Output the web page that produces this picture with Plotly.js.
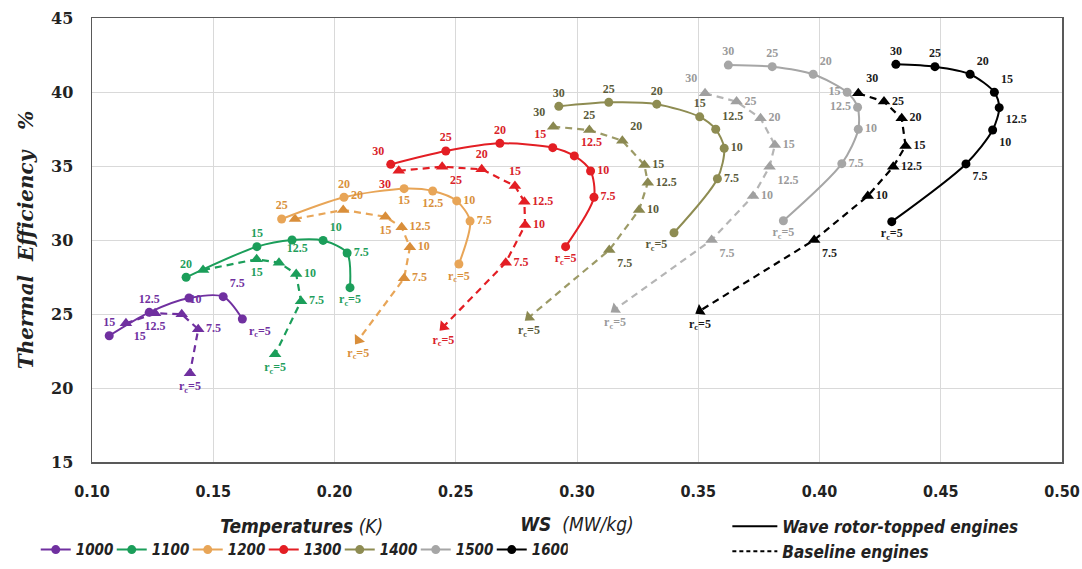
<!DOCTYPE html>
<html><head><meta charset="utf-8">
<script src="https://cdn.plot.ly/plotly-3.0.1.min.js"></script>
<style>html,body{margin:0;padding:0;background:#fff}#chart{width:1082px;height:569px}</style>
</head><body><div id="chart"></div>
<script>
// ---------- DATA ----------
const temperatures = ['1000','1100','1200','1300','1400','1500','1600'];
const xTicks = [0.10,0.15,0.20,0.25,0.30,0.35,0.40,0.45,0.50];
const yTicks = [15,20,25,30,35,40,45];

// Wave rotor-topped engines (solid)
const rc1000w = [15,12.5,10,7.5,5];
const ws1000w = [0.1071,0.1236,0.1400,0.1541,0.1620];
const ef1000w = [23.53,25.11,26.08,26.17,24.66];
const rc1100w = [20,15,12.5,10,7.5,5];
const ws1100w = [0.1388,0.1680,0.1825,0.1953,0.2052,0.2064];
const ef1100w = [27.48,29.55,30.00,29.97,29.12,26.78];
const rc1200w = [25,20,15,12.5,10,7.5,5];
const ws1200w = [0.1782,0.2039,0.2287,0.2405,0.2504,0.2559,0.2513];
const ef1200w = [31.42,32.89,33.47,33.31,32.64,31.28,28.38];
const rc1300w = [30,25,20,15,12.5,10,7.5,5];
const ws1300w = [0.2232,0.2459,0.2682,0.2900,0.2989,0.3056,0.3070,0.2953];
const ef1300w = [35.11,36.01,36.53,36.24,35.68,34.66,32.89,29.55];
const rc1400w = [30,25,20,15,12.5,10,7.5,5];
const ws1400w = [0.2925,0.3131,0.3329,0.3506,0.3572,0.3607,0.3579,0.3400];
const ef1400w = [39.03,39.30,39.18,38.32,37.48,36.20,34.14,30.49];
const rc1500w = [30,25,20,15,12.5,10,7.5,5];
const ws1500w = [0.3624,0.3805,0.3974,0.4114,0.4157,0.4160,0.4092,0.3851];
const ef1500w = [41.82,41.71,41.20,39.98,38.97,37.48,35.16,31.30];
const rc1600w = [30,25,20,15,12.5,10,7.5,5];
const ws1600w = [0.4315,0.4476,0.4621,0.4721,0.4741,0.4714,0.4604,0.4298];
const ef1600w = [41.87,41.71,41.20,39.98,38.94,37.43,35.14,31.24];

// Baseline engines (dashed)
const rc1000b = [15,12.5,10,7.5,5];
const ws1000b = [0.1140,0.1260,0.1370,0.1438,0.1404];
const ef1000b = [24.37,25.05,24.98,23.97,21.00];
const rc1100b = [20,15,12.5,10,7.5,5];
const ws1100b = [0.1458,0.1679,0.1771,0.1842,0.1862,0.1755];
const ef1100b = [27.97,28.70,28.47,27.70,25.86,22.28];
const rc1200b = [25,20,15,12.5,10,7.5,5];
const ws1200b = [0.1837,0.2036,0.2210,0.2277,0.2311,0.2287,0.2098];
const ef1200b = [31.42,32.03,31.57,30.86,29.51,27.41,23.24];
const rc1300b = [30,25,20,15,12.5,10,7.5,5];
const ws1300b = [0.2265,0.2444,0.2607,0.2744,0.2783,0.2786,0.2706,0.2449];
const ef1300b = [34.68,34.95,34.78,33.65,32.59,31.01,28.47,24.14];
const rc1400b = [30,25,20,15,12.5,10,7.5,5];
const ws1400b = [0.2902,0.3051,0.3187,0.3278,0.3292,0.3256,0.3133,0.2802];
const ef1400b = [37.66,37.43,36.71,35.07,33.87,32.03,29.32,24.78];
const rc1500b = [30,25,20,15,12.5,10,7.5,5];
const ws1500b = [0.3528,0.3658,0.3757,0.3816,0.3794,0.3726,0.3555,0.3157];
const ef1500b = [39.91,39.35,38.22,36.42,34.95,32.97,30.00,25.32];
const rc1600b = [30,25,20,15,12.5,10,7.5,5];
const ws1600b = [0.4160,0.4266,0.4339,0.4355,0.4304,0.4199,0.3978,0.3507];
const ef1600b = [39.91,39.35,38.22,36.35,34.95,32.97,30.00,25.22];

// ---------- STYLE ----------
const colW = {'1000':'#7030A0','1100':'#1B9E5A','1200':'#E8A557','1300':'#E31E24','1400':'#8E8C52','1500':'#A6A6A6','1600':'#000000'};
const colB = {'1000':'#7030A0','1100':'#1B9E5A','1200':'#E8A557','1300':'#E31E24','1400':'#9C9A66','1500':'#B5B5B5','1600':'#000000'};
const colMarkB = {'1000':'#7030A0','1100':'#1B9E5A','1200':'#D98E3A','1300':'#E31E24','1400':'#8A8850','1500':'#A0A0A0','1600':'#000000'};
const colTxt = {'1000':'#7030A0','1100':'#1F9E5C','1200':'#D9903C','1300':'#D9222A','1400':'#5A5A3A','1500':'#9A9A9A','1600':'#1a1a1a'};
const arrowEnd = {'1000':false,'1100':false,'1200':true,'1300':true,'1400':true,'1500':true,'1600':true};

const posW = {
 '1000':['top center','top center',null,'top right','bottom right'],
 '1100':['top center','top center',null,'top right','middle right','bottom center'],
 '1200':['top center','top center','bottom center','bottom center','middle right','middle right','bottom center'],
 '1300':['top left','top center','top center','top left','top right','middle right','middle right','bottom center'],
 '1400':['top center','top center','top center','top center','top right','middle right','middle right','bottom left'],
 '1500':['top center','top center','top right','middle left','middle left','middle right','middle right','bottom center'],
 '1600':['top center','top center','top right','top right','bottom right','bottom right','bottom right','bottom center']
};
const posB = {
 '1000':['bottom right','bottom center','top right','middle right','bottom center'],
 '1100':[null,'bottom center','top right','middle right','middle right','bottom center'],
 '1200':[null,'top right','bottom center','middle right','middle right','middle right','bottom center'],
 '1300':['bottom left','bottom right','top center','top center','middle right','middle right','middle right','bottom center'],
 '1400':['top left','top center','top right','middle right','middle right','middle right','bottom right','bottom center'],
 '1500':['top left','middle right','middle right','middle right','bottom right','middle right','bottom right','bottom center'],
 '1600':['top right','middle right','middle right','middle right','middle right','middle right','bottom right','bottom center']
};

const W = {'1000':[rc1000w,ws1000w,ef1000w],'1100':[rc1100w,ws1100w,ef1100w],'1200':[rc1200w,ws1200w,ef1200w],'1300':[rc1300w,ws1300w,ef1300w],'1400':[rc1400w,ws1400w,ef1400w],'1500':[rc1500w,ws1500w,ef1500w],'1600':[rc1600w,ws1600w,ef1600w]};
const B = {'1000':[rc1000b,ws1000b,ef1000b],'1100':[rc1100b,ws1100b,ef1100b],'1200':[rc1200b,ws1200b,ef1200b],'1300':[rc1300b,ws1300b,ef1300b],'1400':[rc1400b,ws1400b,ef1400b],'1500':[rc1500b,ws1500b,ef1500b],'1600':[rc1600b,ws1600b,ef1600b]};

const margin = {l:92, r:20, t:18, b:107, autoexpand:false};
const plotW = 1082 - margin.l - margin.r, plotH = 569 - margin.t - margin.b;
const xr = [0.10,0.50], yr = [15,45];

const labelFont = (c)=>({family:'Liberation Serif, DejaVu Serif, serif', size:12, weight:'bold', color:c});
const narrow = 'Liberation Sans Narrow, DejaVu Sans Condensed, sans-serif';

// text trace (with invisible markers for offset) holding just the labelled points of a series
function labelTrace(rc, xs, ys, pos, color, group, msize){
  const idx = rc.map((v,i)=>i).filter(i=>pos[i]!==null);
  return {
    type:'scatter', mode:'markers+text',
    x: idx.map(i=>xs[i]), y: idx.map(i=>ys[i]),
    marker:{size:msize, opacity:0, color:color},
    text: idx.map(i=> rc[i]===5 ? 'r<sub>c</sub>=5' : String(rc[i])),
    textposition: idx.map(i=>pos[i]), textfont: labelFont(color),
    showlegend:false, legendgroup:group, hoverinfo:'skip', cliponaxis:false
  };
}

const traces = [];
const labels = [];
temperatures.forEach(t=>{
  const [rcb, xb, yb] = B[t];
  const angles = xb.map(()=>0);
  if (arrowEnd[t]) {
    const n = xb.length;
    const vx = (xb[n-1]-xb[n-2]) * plotW/(xr[1]-xr[0]);
    const vy = -(yb[n-1]-yb[n-2]) * plotH/(yr[1]-yr[0]);
    angles[n-1] = Math.atan2(vx, -vy)*180/Math.PI;
  }
  traces.push({
    type:'scatter', mode:'lines+markers', x:xb, y:yb,
    line:{color:colB[t], width:2.2, dash:'7px,5px'},
    marker:{symbol:'triangle-up', size:11, color:colMarkB[t], angle:angles},
    showlegend:false, legendgroup:t, hoverinfo:'x+y', cliponaxis:false
  });
  labels.push(labelTrace(rcb, xb, yb, posB[t], colTxt[t], t, 11));
});
temperatures.forEach(t=>{
  const [rcw, xw, yw] = W[t];
  traces.push({
    type:'scatter', mode:'lines+markers', x:xw, y:yw, name:'<i><b>'+t+'</b></i>',
    line:{color:colW[t], width:2, shape:'spline', smoothing:0.8},
    marker:{symbol:'circle', size:9, color:colW[t]},
    showlegend:true, legendgroup:t, legend:'legend', hoverinfo:'x+y', cliponaxis:false
  });
  labels.push(labelTrace(rcw, xw, yw, posW[t], colTxt[t], t, 9));
});
labels.forEach(l=>traces.push(l));
// line-style key
traces.push({type:'scatter', mode:'lines', x:[null], y:[null], name:'<b><i>Wave rotor-topped engines</i></b>', line:{color:'#000', width:2}, legend:'legend2'});
traces.push({type:'scatter', mode:'lines', x:[null], y:[null], name:'<b><i>Baseline engines</i></b>', line:{color:'#000', width:2, dash:'4px,3px'}, legend:'legend2'});

const layout = {
  width:1082, height:569, margin:margin, paper_bgcolor:'#fff', plot_bgcolor:'#fff',
  showlegend:true,
  xaxis:{range:xr, tickvals:xTicks, ticktext:xTicks.map(v=>v.toFixed(2)), showgrid:true, gridcolor:'#d9d9d9', gridwidth:1,
    zeroline:false, showline:true, linecolor:'#595959', linewidth:1.5, mirror:true, ticks:'', ticklabelstandoff:14,
    automargin:false,
    tickfont:{family:narrow, size:16, weight:'bold', color:'#222'},
    title:{text:'<b><i>WS</i></b>&nbsp; <i>(MW/kg)</i>', font:{family:narrow, size:19, color:'#222'}, standoff:18}},
  yaxis:{range:yr, tickvals:yTicks, showgrid:true, gridcolor:'#d9d9d9', gridwidth:1,
    zeroline:false, showline:true, linecolor:'#595959', linewidth:1.5, mirror:true, ticks:'', ticklabelstandoff:14,
    automargin:false,
    tickfont:{family:'DejaVu Serif, serif', size:16, weight:'bold', color:'#222'},
    title:{text:'<b><i>Thermal&nbsp; Efficiency&nbsp;&nbsp; %</i></b>', font:{family:'DejaVu Serif, serif', size:20, color:'#222'}, standoff:12}},
  legend:{orientation:'h', x:-0.058, xanchor:'left', y:-0.105, yanchor:'top', bgcolor:'rgba(0,0,0,0)',
    font:{family:narrow, size:15, color:'#222'},
    title:{text:'<b><i>Temperatures</i></b> <i>(K)</i>', side:'top center', font:{family:narrow, size:19, color:'#222'}},
    itemwidth:30, entrywidth:31, entrywidthmode:'pixels', tracegroupgap:0},
  legend2:{orientation:'v', x:0.655, xanchor:'left', y:-0.105, yanchor:'top', bgcolor:'rgba(0,0,0,0)',
    font:{family:narrow, size:17, color:'#222'}, itemwidth:45, tracegroupgap:0}
};

Plotly.newPlot('chart', traces, layout, {displayModeBar:false, staticPlot:true});
</script>
</body></html>
